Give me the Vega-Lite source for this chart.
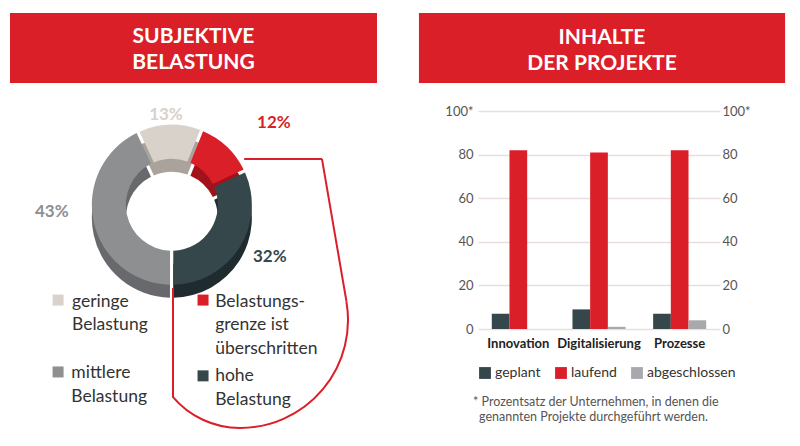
{
  "$schema": "https://vega.github.io/schema/vega-lite/v6.json",
  "background": "white",
  "padding": {"left": 10, "top": 13, "right": 0, "bottom": 0},
  "bounds": "flush",
  "spacing": 101,
  "config": {
    "font": "Lato",
    "view": {"stroke": null},
    "axis": {"labelFont": "Lato"},
    "legend": {"labelFont": "Lato"}
  },
  "datasets": {
    "belastung": [
      {"Belastung": "geringe Belastung", "Anteil": 0.13},
      {"Belastung": "Belastungsgrenze ist überschritten", "Anteil": 0.12},
      {"Belastung": "hohe Belastung", "Anteil": 0.32},
      {"Belastung": "mittlere Belastung", "Anteil": 0.43}
    ],
    "projekte": [
      {"Bereich": "Innovation", "Status": "geplant", "Prozent": 7},
      {"Bereich": "Innovation", "Status": "laufend", "Prozent": 82},
      {"Bereich": "Innovation", "Status": "abgeschlossen", "Prozent": 0},
      {"Bereich": "Digitalisierung", "Status": "geplant", "Prozent": 9},
      {"Bereich": "Digitalisierung", "Status": "laufend", "Prozent": 81},
      {"Bereich": "Digitalisierung", "Status": "abgeschlossen", "Prozent": 1},
      {"Bereich": "Prozesse", "Status": "geplant", "Prozent": 7},
      {"Bereich": "Prozesse", "Status": "laufend", "Prozent": 82},
      {"Bereich": "Prozesse", "Status": "abgeschlossen", "Prozent": 4}
    ]
  },
  "resolve": {"scale": {"color": "independent", "fill": "independent"}, "legend": {"color": "independent"}},
  "hconcat": [
    {
      "width": 367,
      "height": 433,
      "layer": [
        {
          "data": {"values": [{}]},
          "mark": {"type": "rect", "color": "#da1f28"},
          "encoding": {
            "x": {"datum": 0, "type": "quantitative", "scale": {"domain": [0, 100], "nice": false, "zero": false}, "axis": null},
            "x2": {"datum": 100},
            "y": {"datum": 0, "type": "quantitative", "scale": {"domain": [0, 100], "nice": false, "zero": false, "reverse": true}, "axis": null},
            "y2": {"datum": 16.17}
          }
        },
        {
          "data": {"values": [{}]},
          "mark": {"type": "text", "text": ["SUBJEKTIVE", "BELASTUNG"], "color": "white", "fontSize": 21, "fontWeight": "bold", "align": "center", "baseline": "alphabetic", "lineHeight": 26},
          "encoding": {"x": {"datum": 50}, "y": {"datum": 7.04}}
        },
        {
          "data": {"name": "belastung"},
          "transform": [{"window": [{"op": "row_number", "as": "Reihenfolge"}]}],
          "mark": {"type": "arc", "outerRadius": 80, "innerRadius": 46, "padAngle": 0.035, "yOffset": 13},
          "encoding": {
            "x": {"datum": 44.1},
            "y": {"datum": 44.3},
            "theta": {"field": "Anteil", "type": "quantitative", "stack": true, "scale": {"range": [-0.436, 5.847]}},
            "order": {"field": "Reihenfolge", "type": "quantitative"},
            "fill": {
              "field": "Belastung", "type": "nominal", "legend": null,
              "scale": {
                "domain": ["geringe Belastung", "Belastungsgrenze ist überschritten", "hohe Belastung", "mittlere Belastung"],
                "range": ["#a9a39b", "#a3121a", "#1f2b2e", "#67696c"]
              }
            }
          }
        },
        {
          "data": {"name": "belastung"},
          "transform": [{"window": [{"op": "row_number", "as": "Reihenfolge"}]}],
          "mark": {"type": "arc", "outerRadius": 80, "innerRadius": 46, "padAngle": 0.035},
          "encoding": {
            "x": {"datum": 44.1},
            "y": {"datum": 44.3},
            "theta": {"field": "Anteil", "type": "quantitative", "stack": true, "scale": {"range": [-0.436, 5.847]}},
            "order": {"field": "Reihenfolge", "type": "quantitative"},
            "color": {
              "field": "Belastung", "type": "nominal", "legend": null,
              "scale": {
                "domain": ["geringe Belastung", "Belastungsgrenze ist überschritten", "hohe Belastung", "mittlere Belastung"],
                "range": ["#d8d2ca", "#da1f28", "#36474b", "#8d8f91"]
              }
            }
          }
        },
        {
          "data": {"name": "belastung"},
          "transform": [{"filter": "datum.Belastung === 'geringe Belastung'"}],
          "mark": {"type": "text", "fontSize": 17, "fontWeight": "bold", "align": "center", "baseline": "middle"},
          "encoding": {
            "x": {"datum": 42.5}, "y": {"datum": 23.6},
            "text": {"field": "Anteil", "type": "quantitative", "format": ".0%"},
            "color": {"field": "Belastung", "type": "nominal", "legend": null}
          }
        },
        {
          "data": {"name": "belastung"},
          "transform": [{"filter": "datum.Belastung === 'Belastungsgrenze ist überschritten'"}],
          "mark": {"type": "text", "fontSize": 17, "fontWeight": "bold", "align": "center", "baseline": "middle"},
          "encoding": {
            "x": {"datum": 71.9}, "y": {"datum": 25.4},
            "text": {"field": "Anteil", "type": "quantitative", "format": ".0%"},
            "color": {"field": "Belastung", "type": "nominal", "legend": null}
          }
        },
        {
          "data": {"name": "belastung"},
          "transform": [{"filter": "datum.Belastung === 'mittlere Belastung'"}],
          "mark": {"type": "text", "fontSize": 17, "fontWeight": "bold", "align": "center", "baseline": "middle"},
          "encoding": {
            "x": {"datum": 11.4}, "y": {"datum": 46.0},
            "text": {"field": "Anteil", "type": "quantitative", "format": ".0%"},
            "color": {"field": "Belastung", "type": "nominal", "legend": null}
          }
        },
        {
          "data": {"name": "belastung"},
          "transform": [{"filter": "datum.Belastung === 'hohe Belastung'"}],
          "mark": {"type": "text", "fontSize": 17, "fontWeight": "bold", "align": "center", "baseline": "middle"},
          "encoding": {
            "x": {"datum": 70.8}, "y": {"datum": 56.4},
            "text": {"field": "Anteil", "type": "quantitative", "format": ".0%"},
            "color": {"field": "Belastung", "type": "nominal", "legend": null}
          }
        },
        {
          "data": {"values": [{}]},
          "mark": {"type": "point", "shape": "square", "filled": true, "size": 121, "opacity": 1},
          "encoding": {"x": {"datum": 13.1}, "y": {"datum": 66.3}, "color": {"datum": "geringe Belastung", "type": "nominal", "legend": null}}
        },
        {
          "data": {"values": [{}]},
          "mark": {"type": "point", "shape": "square", "filled": true, "size": 121, "opacity": 1},
          "encoding": {"x": {"datum": 13.1}, "y": {"datum": 82.9}, "color": {"datum": "mittlere Belastung", "type": "nominal", "legend": null}}
        },
        {
          "data": {"values": [{}]},
          "mark": {"type": "point", "shape": "square", "filled": true, "size": 121, "opacity": 1},
          "encoding": {"x": {"datum": 52.6}, "y": {"datum": 66.3}, "color": {"datum": "Belastungsgrenze ist überschritten", "type": "nominal", "legend": null}}
        },
        {
          "data": {"values": [{}]},
          "mark": {"type": "point", "shape": "square", "filled": true, "size": 121, "opacity": 1},
          "encoding": {"x": {"datum": 52.6}, "y": {"datum": 83.8}, "color": {"datum": "hohe Belastung", "type": "nominal", "legend": null}}
        },
        {
          "data": {"values": [{}]},
          "mark": {"type": "text", "text": ["geringe", "Belastung"], "fontSize": 17.5, "color": "#333333", "align": "left", "baseline": "alphabetic", "lineHeight": 23},
          "encoding": {"x": {"datum": 16.9}, "y": {"datum": 67.8}}
        },
        {
          "data": {"values": [{}]},
          "mark": {"type": "text", "text": ["mittlere", "Belastung"], "fontSize": 17.5, "color": "#333333", "align": "left", "baseline": "alphabetic", "lineHeight": 24},
          "encoding": {"x": {"datum": 16.7}, "y": {"datum": 84.4}}
        },
        {
          "data": {"values": [{}]},
          "mark": {"type": "text", "text": ["Belastungs-", "grenze ist", "überschritten"], "fontSize": 17.5, "color": "#333333", "align": "left", "baseline": "alphabetic", "lineHeight": 23.5},
          "encoding": {"x": {"datum": 55.9}, "y": {"datum": 67.8}}
        },
        {
          "data": {"values": [{}]},
          "mark": {"type": "text", "text": ["hohe", "Belastung"], "fontSize": 17.5, "color": "#333333", "align": "left", "baseline": "alphabetic", "lineHeight": 24},
          "encoding": {"x": {"datum": 55.9}, "y": {"datum": 85.1}}
        },
        {
          "data": {"values": [{}]},
          "mark": {"type": "rule", "color": "#da1f28", "strokeWidth": 2},
          "encoding": {"x": {"datum": 63.8}, "x2": {"datum": 85.0}, "y": {"datum": 33.7}, "y2": {"datum": 33.7}}
        },
        {
          "data": {"values": [{}]},
          "mark": {"type": "rule", "color": "#da1f28", "strokeWidth": 2},
          "encoding": {"x": {"datum": 85.0}, "x2": {"datum": 91.66}, "y": {"datum": 33.7}, "y2": {"datum": 66.51}}
        },
        {
          "data": {"values": [{}]},
          "mark": {"type": "rule", "color": "#da1f28", "strokeWidth": 2},
          "encoding": {"x": {"datum": 44.41}, "x2": {"datum": 44.41}, "y": {"datum": 63.5}, "y2": {"datum": 88.68}}
        },
        {
          "data": {"values": [{}]},
          "mark": {"type": "arc", "theta": 1.396, "theta2": 3.1416, "outerRadius": 108, "innerRadius": 108, "filled": false, "stroke": "#da1f28", "strokeWidth": 2},
          "encoding": {"x": {"datum": 62.67}, "y": {"datum": 70.9}}
        },
        {
          "data": {"values": [{}]},
          "mark": {"type": "arc", "theta": 3.1416, "theta2": 4.014, "outerRadius": 88, "innerRadius": 88, "filled": false, "stroke": "#da1f28", "strokeWidth": 2},
          "encoding": {"x": {"datum": 62.67}, "y": {"datum": 75.52}}
        }
      ]
    },
    {
      "width": 242,
      "height": 316,
      "layer": [
        {
          "data": {"name": "projekte"},
          "mark": {"type": "bar"},
          "encoding": {
            "x": {
              "field": "Bereich", "type": "nominal",
              "sort": ["Innovation", "Digitalisierung", "Prozesse"],
              "scale": {"paddingInner": 0, "paddingOuter": 0},
              "axis": {"title": null, "labelAngle": 0, "domain": false, "ticks": false, "labelPadding": 8, "labelFontWeight": "bold", "labelFontSize": 13, "labelColor": "#222222"}
            },
            "xOffset": {
              "field": "Status", "type": "nominal",
              "sort": ["geplant", "laufend", "abgeschlossen"],
              "scale": {"paddingInner": 0, "paddingOuter": 0.78}
            },
            "y": {
              "field": "Prozent", "type": "quantitative",
              "scale": {"domain": [0, 145], "nice": false},
              "axis": {
                "title": null, "orient": "left", "values": [0, 20, 40, 60, 80, 100],
                "labelExpr": "datum.value === 100 ? '100*' : datum.label",
                "domain": false, "ticks": false, "labelPadding": 5, "labelFontSize": 13, "labelColor": "#555555",
                "grid": true, "gridColor": "#e9dede", "gridWidth": 1.5
              }
            },
            "color": {
              "field": "Status", "type": "nominal",
              "sort": ["geplant", "laufend", "abgeschlossen"],
              "scale": {"domain": ["geplant", "laufend", "abgeschlossen"], "range": ["#36474b", "#da1f28", "#a7a9ac"]},
              "legend": {
                "title": null, "orient": "bottom", "direction": "horizontal",
                "symbolType": "square", "symbolSize": 140, "symbolStrokeWidth": 0,
                "labelFontSize": 14, "labelColor": "#333333", "labelOffset": 3,
                "columnPadding": 13, "offset": 16, "padding": 0
              }
            }
          }
        },
        {
          "data": {"name": "projekte"},
          "mark": {"type": "bar", "opacity": 0},
          "encoding": {
            "x": {"field": "Bereich", "type": "nominal", "sort": ["Innovation", "Digitalisierung", "Prozesse"], "scale": {"paddingInner": 0, "paddingOuter": 0}, "axis": null},
            "y": {
              "field": "Prozent", "type": "quantitative",
              "scale": {"domain": [0, 145], "nice": false},
              "axis": {
                "title": null, "orient": "right", "values": [0, 20, 40, 60, 80, 100],
                "labelExpr": "datum.value === 100 ? '100*' : datum.label",
                "domain": false, "ticks": false, "labelPadding": 2, "labelFontSize": 13, "labelColor": "#555555", "grid": false
              }
            }
          }
        },
        {
          "data": {"values": [{}]},
          "layer": [
            {
              "mark": {"type": "rect", "color": "#da1f28"},
              "encoding": {
                "x": {"datum": -24.4, "type": "quantitative", "scale": {"domain": [0, 100], "nice": false, "zero": false}, "axis": null},
                "x2": {"datum": 126.9},
                "y": {"datum": 145, "type": "quantitative", "scale": {"domain": [0, 145], "nice": false}, "axis": null},
                "y2": {"datum": 112.9}
              }
            },
            {
              "mark": {"type": "text", "text": ["INHALTE", "DER PROJEKTE"], "color": "white", "fontSize": 21, "fontWeight": "bold", "align": "center", "baseline": "alphabetic", "lineHeight": 26},
              "encoding": {
                "x": {"datum": 51.24, "type": "quantitative", "scale": {"domain": [0, 100], "nice": false, "zero": false}, "axis": null},
                "y": {"datum": 131.0, "type": "quantitative", "scale": {"domain": [0, 145], "nice": false}, "axis": null}
              }
            },
            {
              "mark": {"type": "text", "text": "* Prozentsatz der Unternehmen, in denen die", "color": "#555555", "fontSize": 12.5, "align": "left", "baseline": "middle"},
              "encoding": {
                "x": {"datum": -2.07, "type": "quantitative", "scale": {"domain": [0, 100], "nice": false, "zero": false}, "axis": null},
                "y": {"datum": -33.5, "type": "quantitative", "scale": {"domain": [0, 145], "nice": false}, "axis": null}
              }
            },
            {
              "mark": {"type": "text", "text": "genannten Projekte durchgeführt werden.", "color": "#555555", "fontSize": 12.5, "align": "left", "baseline": "middle"},
              "encoding": {
                "x": {"datum": 0.41, "type": "quantitative", "scale": {"domain": [0, 100], "nice": false, "zero": false}, "axis": null},
                "y": {"datum": -40.4, "type": "quantitative", "scale": {"domain": [0, 145], "nice": false}, "axis": null}
              }
            }
          ]
        }
      ],
      "resolve": {"scale": {"x": "independent", "xOffset": "independent"}, "axis": {"y": "independent"}}
    }
  ]
}
